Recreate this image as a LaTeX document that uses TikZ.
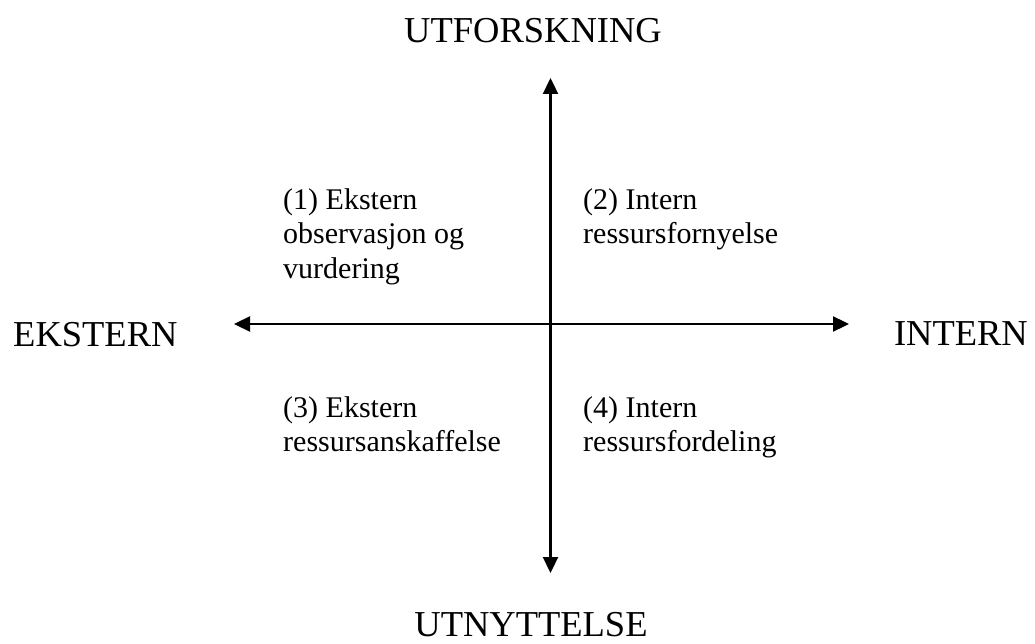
\documentclass[tikz,border=0pt]{standalone}
\usepackage{fontspec}
\setmainfont{Liberation Serif}
\usetikzlibrary{arrows.meta}
\begin{document}
\begin{tikzpicture}[x=1pt,y=-1pt,
  axis/.style={line width=2.3pt,{Triangle[length=16pt,width=15pt]}-{Triangle[length=16pt,width=15pt]}},
  title/.style={font=\fontsize{36.5}{40}\selectfont,inner sep=0pt,anchor=base},
  quad/.style={font=\fontsize{30}{34.5}\selectfont,inner sep=0pt,align=left,anchor=north west}]
\useasboundingbox (0,0) rectangle (1035,644);
\coordinate (top) at (550.5,78);
\coordinate (bot) at (550.5,573);
\coordinate (lft) at (234,324);
\coordinate (rgt) at (849,324);
\draw[axis] (bot) -- (top);
\draw[axis] (lft) -- (rgt);
\node[title] (ut) at (533,43) {UTFORSKNING};
\node[title] (un) at (531,636) {UTNYTTELSE};
\node[title,anchor=base west] (ek) at (13,346) {EKSTERN};
\node[title,anchor=base east] (in) at (1028,345) {INTERN};
\node[quad] (q1) at (283,188) {(1) Ekstern\\observasjon og\\vurdering};
\node[quad] (q2) at (583,188) {(2) Intern\\ressursfornyelse};
\node[quad] (q3) at (283,396) {(3) Ekstern\\ressursanskaffelse};
\node[quad] (q4) at (583,396) {(4) Intern\\ressursfordeling};
\end{tikzpicture}
\end{document}
